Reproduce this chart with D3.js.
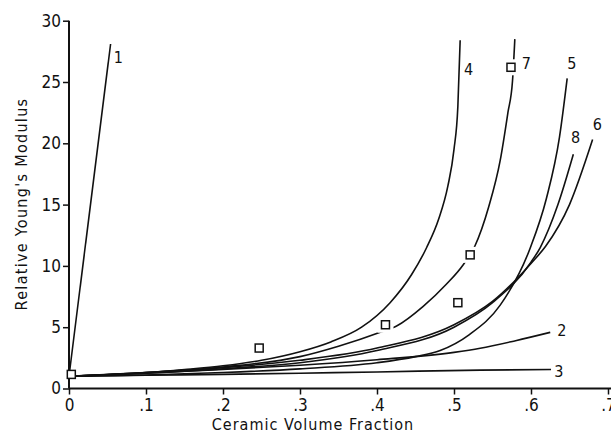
<!DOCTYPE html>
<html>
<head>
<meta charset="utf-8">
<style>
  body { margin: 0; background: #fff; }
  svg text { font-family: "DejaVu Sans Condensed", "DejaVu Sans", sans-serif; fill: #111; }
</style>
</head>
<body>
<div id="chart"></div>
<script src="https://cdn.jsdelivr.net/npm/d3@7"></script>
<script>
// ---- data ----
var xTicks = [0, 0.1, 0.2, 0.3, 0.4, 0.5, 0.6, 0.7];
var xTickLabels = ["0", ".1", ".2", ".3", ".4", ".5", ".6", ".7"];
var yTicks = [0, 5, 10, 15, 20, 25, 30];

var curve1 = [[0, 1], [0.054, 28.1]];
var curve2 = [[0, 1], [0.1, 1.25], [0.2, 1.55], [0.3, 1.9], [0.4, 2.35], [0.5, 2.95], [0.534, 3.28], [0.58, 3.9], [0.625, 4.58]];
var curve3 = [[0, 1], [0.1, 1.08], [0.2, 1.15], [0.3, 1.25], [0.4, 1.35], [0.534, 1.5], [0.626, 1.55]];
var curve4 = [[0, 1], [0.1, 1.3], [0.15, 1.55], [0.2, 1.85], [0.25, 2.3], [0.3, 3.0], [0.34, 3.8], [0.38, 5.0], [0.417, 7.0], [0.445, 9.3], [0.4645, 11.5], [0.48, 13.8], [0.492, 16.5], [0.5, 19.5], [0.505, 23], [0.508, 28.4]];
var curve5 = [[0, 1], [0.1, 1.1], [0.2, 1.3], [0.3, 1.6], [0.4, 2.1], [0.45, 2.6], [0.482, 3.1], [0.52, 4.4], [0.56, 6.8], [0.599, 11.46], [0.62, 15.5], [0.637, 20.5], [0.647, 25.3]];
var curve6 = [[0, 1], [0.1, 1.3], [0.2, 1.7], [0.3, 2.3], [0.4, 3.3], [0.5, 5.2], [0.55, 7.1], [0.6, 10.2], [0.619, 11.6], [0.65, 15], [0.68, 20.3]];
var curve7 = [[0, 1], [0.1, 1.3], [0.2, 1.75], [0.3, 2.6], [0.35, 3.45], [0.406, 4.63], [0.4255, 5.1], [0.46, 6.7], [0.49, 8.5], [0.512, 10.1], [0.527, 11.6], [0.545, 14.8], [0.56, 18.6], [0.57, 22.5], [0.576, 25.1], [0.579, 28.5]];
var curve8 = [[0, 1], [0.1, 1.25], [0.2, 1.6], [0.3, 2.1], [0.4, 3.1], [0.5, 5.0], [0.55, 7.0], [0.6, 10.3], [0.612, 11.5], [0.635, 15], [0.655, 19.1]];

var curveNames = ["1", "2", "3", "4", "5", "6", "7", "8"];
var curves = [curve1, curve2, curve3, curve4, curve5, curve6, curve7, curve8];
// label anchor points, in data units
var labelPoints = [[0.064, 27.0], [0.640, 4.7], [0.636, 1.4], [0.519, 26.0], [0.653, 26.5], [0.686, 21.5], [0.594, 26.5], [0.658, 20.5]];

// experimental points (open squares)
var squares = [[0.003, 1.15], [0.247, 3.3], [0.411, 5.2], [0.505, 7.0], [0.521, 10.9], [0.574, 26.2]];

// ---- chart ----
var W = 611, H = 437;
var x = d3.scaleLinear().domain([0, 0.7]).range([69, 608]);
var y = d3.scaleLinear().domain([0, 30]).range([388.5, 20.7]);

var svg = d3.select("#chart").append("svg")
  .attr("width", W).attr("height", H);

// mask so curve 7 breaks around the squares
var mask = svg.append("defs").append("mask").attr("id", "gap7");
mask.append("rect").attr("width", W).attr("height", H).attr("fill", "#fff");
mask.selectAll("rect.hole")
  .data(squares.slice(1))
  .enter().append("rect")
  .attr("class", "hole")
  .attr("x", function(d) { return x(d[0]) - 8; })
  .attr("y", function(d) { return y(d[1]) - 8; })
  .attr("width", 16).attr("height", 16)
  .attr("fill", "#000");

var xAxis = d3.axisBottom(x).tickValues(xTicks)
  .tickFormat(function(d, i) { return xTickLabels[i]; })
  .tickSize(6).tickPadding(4);
var yAxis = d3.axisLeft(y).tickValues(yTicks).tickSize(6).tickPadding(2);

var gx = svg.append("g").attr("transform", "translate(0," + y(0) + ")").call(xAxis);
gx.select(".domain").attr("d", "M" + x(0) + ",0H" + W);
var gy = svg.append("g").attr("transform", "translate(" + x(0) + ",0)").call(yAxis);
gy.select(".domain").attr("d", "M0," + y(0) + "V" + y(30));

svg.selectAll(".domain").attr("stroke", "#111").attr("stroke-width", 2);
svg.selectAll(".tick line").attr("stroke", "#111").attr("stroke-width", 1.5);
svg.selectAll(".tick text").attr("font-size", 17).attr("fill", "#111")
  .style("font-family", "'DejaVu Sans Condensed', sans-serif");

var line = d3.line()
  .x(function(d) { return x(d[0]); })
  .y(function(d) { return y(d[1]); })
  .curve(d3.curveMonotoneX);

svg.selectAll("path.curve")
  .data(curves)
  .enter().append("path")
  .attr("class", "curve")
  .attr("d", line)
  .attr("fill", "none")
  .attr("stroke", "#111")
  .attr("stroke-width", 1.6)
  .attr("mask", function(d, i) { return curveNames[i] === "7" ? "url(#gap7)" : null; });

svg.selectAll("rect.pt")
  .data(squares)
  .enter().append("rect")
  .attr("class", "pt")
  .attr("x", function(d) { return x(d[0]) - 4; })
  .attr("y", function(d) { return y(d[1]) - 4; })
  .attr("width", 8).attr("height", 8)
  .attr("fill", "#fff")
  .attr("stroke", "#111")
  .attr("stroke-width", 1.5);

svg.selectAll("text.clabel")
  .data(labelPoints)
  .enter().append("text")
  .attr("class", "clabel")
  .attr("x", function(d) { return x(d[0]); })
  .attr("y", function(d) { return y(d[1]); })
  .attr("text-anchor", "middle")
  .attr("dominant-baseline", "central")
  .attr("font-size", 16)
  .text(function(d, i) { return curveNames[i]; });

svg.append("text")
  .attr("x", 313).attr("y", 430)
  .attr("text-anchor", "middle")
  .attr("font-size", 16)
  .attr("letter-spacing", 1)
  .text("Ceramic Volume Fraction");

svg.append("text")
  .attr("transform", "translate(27,204) rotate(-90)")
  .attr("text-anchor", "middle")
  .attr("font-size", 16)
  .attr("letter-spacing", 1.3)
  .text("Relative Young's Modulus");
</script>
</body>
</html>
